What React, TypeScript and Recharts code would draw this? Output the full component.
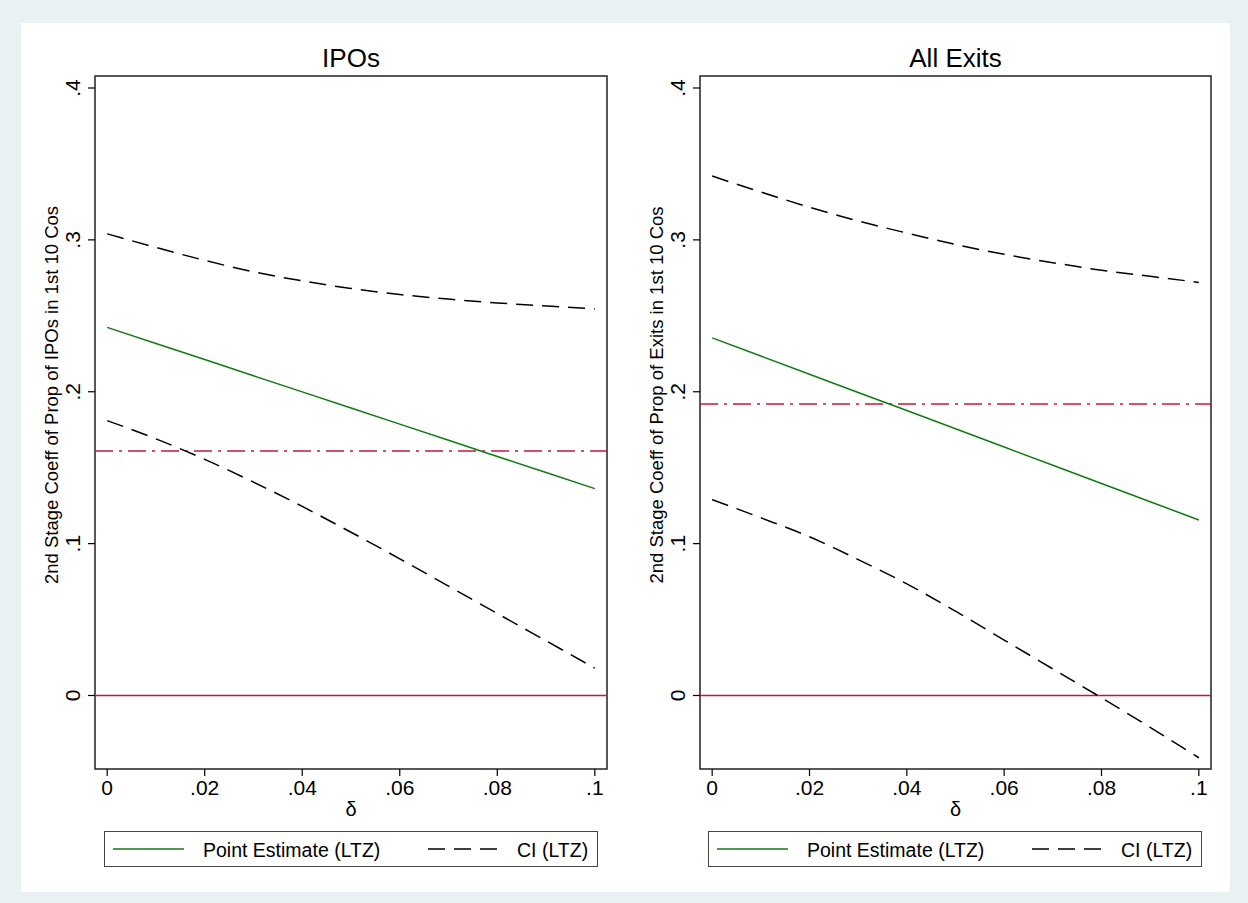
import { LineChart, Line, XAxis, YAxis, ReferenceLine, ReferenceArea, Legend } from "recharts"

// delta grid and estimates
const deltas = [0, 0.01, 0.02, 0.03, 0.04, 0.05, 0.06, 0.07, 0.08, 0.09, 0.1]

const ipoPoint = [0.2424, 0.2318, 0.2212, 0.2105, 0.1999, 0.1893, 0.1787, 0.1681, 0.1574, 0.1468, 0.1362]
const ipoUpper = [0.304, 0.295, 0.2865, 0.279, 0.273, 0.268, 0.264, 0.261, 0.2585, 0.2565, 0.2545]
const ipoLower = [0.181, 0.169, 0.1555, 0.1405, 0.1245, 0.1075, 0.09, 0.072, 0.054, 0.036, 0.018]
const ipoBench = 0.161

const exitPoint = [0.2355, 0.2235, 0.2115, 0.1995, 0.1876, 0.1756, 0.1636, 0.1516, 0.1396, 0.1276, 0.1156]
const exitUpper = [0.342, 0.3315, 0.3215, 0.3125, 0.3045, 0.297, 0.2905, 0.285, 0.28, 0.276, 0.272]
const exitLower = [0.129, 0.117, 0.1045, 0.0895, 0.0735, 0.0555, 0.0365, 0.0175, -0.0015, -0.021, -0.041]
const exitBench = 0.192

const xTicks = [0, 0.02, 0.04, 0.06, 0.08, 0.1]
const yTicks = [0, 0.1, 0.2, 0.3, 0.4]
const legendOrder = ["Point Estimate (LTZ)", "CI (LTZ)"]

const FONT = "'Liberation Sans', Arial, Helvetica, sans-serif"
const GREEN = "#137a13"
const RED = "#c8163f"
const X_DOMAIN: [number, number] = [-0.0025, 0.1025]
const Y_DOMAIN: [number, number] = [-0.0484, 0.4079]

const CHART_W = 604
const CHART_H = 869
const PLOT_TOP = 53
const PLOT_H = 693
const Y_AXIS_W = 60

const fmt = (v: number) => {
  if (v === 0) return "0"
  return String(Number(v.toFixed(3))).replace(/^0\./, ".").replace(/^-0\./, "-.")
}

function YTick(props: any) {
  const { x, y, payload } = props
  return (
    <text x={x} y={y} transform={`rotate(-90 ${x} ${y})`} textAnchor="middle" fontSize={21} fontFamily={FONT} fill="#000">
      {fmt(payload.value)}
    </text>
  )
}

function renderLegend(props: any) {
  const items = (props.payload || [])
    .filter((p: any) => legendOrder.includes(p.value))
    .sort((a: any, b: any) => legendOrder.indexOf(a.value) - legendOrder.indexOf(b.value))
  const slots = [
    { lineX: 9, textX: 99 },
    { lineX: 324, textX: 413 },
  ]
  return (
    <svg width={494} height={36} style={{ display: "block" }}>
      <rect x={0.5} y={0.5} width={493} height={35} fill="#fff" stroke="#444" strokeWidth={1} />
      {items.map((it: any, i: number) => {
        const s = slots[i] || slots[0]
        return (
          <g key={it.value}>
            <line
              x1={s.lineX}
              x2={s.lineX + 71}
              y1={18}
              y2={18}
              stroke={it.color}
              strokeWidth={1.5}
              strokeDasharray={it.payload?.strokeDasharray}
            />
            <text x={s.textX} y={25.5} fontSize={19.5} fontFamily={FONT} fill="#000">
              {it.value}
            </text>
          </g>
        )
      })}
    </svg>
  )
}

type PanelProps = {
  left: number
  plotLeft: number
  plotWidth: number
  title: string
  yTitle: string
  point: number[]
  upper: number[]
  lower: number[]
  bench: number
}

function Panel({ left, plotLeft, plotWidth, title, yTitle, point, upper, lower, bench }: PanelProps) {
  const rows = deltas.map((d, i) => ({ delta: d, point: point[i], upper: upper[i], lower: lower[i] }))
  const plotCenterX = plotLeft + plotWidth / 2
  const yTitleX = plotLeft - 37

  return (
    <div style={{ position: "absolute", left, top: 23 }}>
      <LineChart
        width={CHART_W}
        height={CHART_H}
        data={rows}
        margin={{ top: PLOT_TOP, right: CHART_W - plotLeft - plotWidth, bottom: CHART_H - PLOT_TOP - PLOT_H - 30, left: plotLeft - Y_AXIS_W }}
      >
        <XAxis
          type="number"
          dataKey="delta"
          domain={X_DOMAIN}
          ticks={xTicks}
          interval={0}
          allowDataOverflow
          height={30}
          tickSize={7}
          tickMargin={4}
          axisLine={false}
          tickLine={{ stroke: "#000", strokeWidth: 1.2 }}
          tick={{ fontSize: 21, fill: "#000", fontFamily: FONT }}
          tickFormatter={fmt}
          label={{
            content: () => (
              <text x={plotCenterX} y={792.5} textAnchor="middle" fontSize={20} fontFamily={FONT} fill="#000">
                δ
              </text>
            ),
          }}
        />
        <YAxis
          type="number"
          domain={Y_DOMAIN}
          ticks={yTicks}
          interval={0}
          allowDataOverflow
          width={Y_AXIS_W}
          tickSize={7}
          tickMargin={7.5}
          axisLine={false}
          tickLine={{ stroke: "#000", strokeWidth: 1.2 }}
          tick={(p: any) => <YTick {...p} />}
          label={{
            content: () => (
              <text
                x={yTitleX}
                y={372}
                transform={`rotate(-90 ${yTitleX} 372)`}
                textAnchor="middle"
                fontSize={18.5}
                fontFamily={FONT}
                fill="#000"
              >
                {yTitle}
              </text>
            ),
          }}
        />
        <ReferenceArea
          x1={X_DOMAIN[0]}
          x2={X_DOMAIN[1]}
          y1={Y_DOMAIN[0]}
          y2={Y_DOMAIN[1]}
          fill="none"
          fillOpacity={0}
          stroke="#222"
          strokeWidth={1.5}
          ifOverflow="visible"
          label={{
            content: () => (
              <text x={plotCenterX} y={PLOT_TOP - 9.5} textAnchor="middle" fontSize={26} fontFamily={FONT} fill="#000">
                {title}
              </text>
            ),
          }}
        />
        <ReferenceLine y={0} stroke={RED} strokeWidth={1.5} />
        <ReferenceLine y={bench} stroke={RED} strokeWidth={1.5} strokeDasharray="18 6 3 6" />
        <Line type="linear" dataKey="point" name="Point Estimate (LTZ)" stroke={GREEN} strokeWidth={1.5} dot={false} isAnimationActive={false} />
        <Line type="monotone" dataKey="upper" name="CI (LTZ)" stroke="#000" strokeWidth={1.5} strokeDasharray="17 9" dot={false} isAnimationActive={false} />
        <Line type="monotone" dataKey="lower" name="CI lower" legendType="none" stroke="#000" strokeWidth={1.5} strokeDasharray="17 9" dot={false} isAnimationActive={false} />
        <Legend
          layout="horizontal"
          verticalAlign="middle"
          align="center"
          wrapperStyle={{ position: "absolute", left: 83, top: 808, width: 494, height: 36 }}
          content={renderLegend}
        />
      </LineChart>
    </div>
  )
}

export default function App() {
  return (
    <div style={{ position: "absolute", left: 0, top: 0, width: 1248, height: 903, background: "#e9f1f3", fontFamily: FONT }}>
      <div style={{ position: "absolute", left: 21, top: 23, width: 1209, height: 869, background: "#fff" }} />
      <Panel
        left={21}
        plotLeft={74}
        plotWidth={512}
        title="IPOs"
        yTitle="2nd Stage Coeff of Prop of IPOs in 1st 10 Cos"
        point={ipoPoint}
        upper={ipoUpper}
        lower={ipoLower}
        bench={ipoBench}
      />
      <Panel
        left={625}
        plotLeft={75}
        plotWidth={511}
        title="All Exits"
        yTitle="2nd Stage Coeff of Prop of Exits in 1st 10 Cos"
        point={exitPoint}
        upper={exitUpper}
        lower={exitLower}
        bench={exitBench}
      />
    </div>
  )
}
